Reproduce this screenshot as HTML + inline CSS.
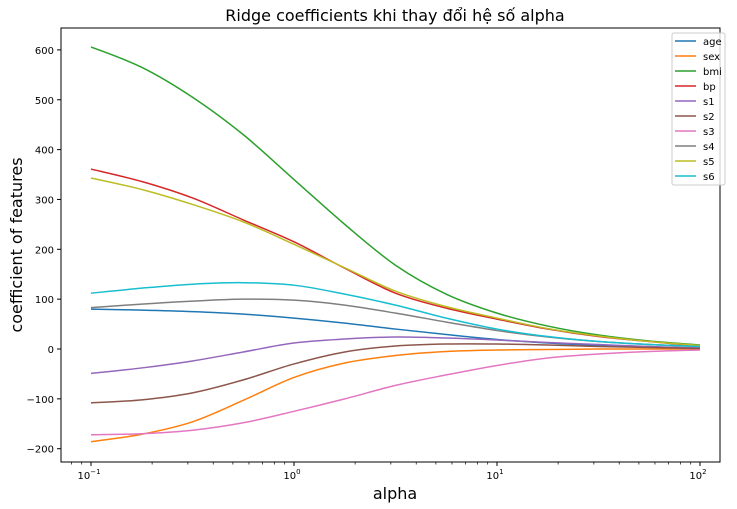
<!DOCTYPE html>
<html><head><meta charset="utf-8"><style>
html,body{margin:0;padding:0;background:#fff;}
svg{display:block;font-family:"DejaVu Sans","Liberation Sans",sans-serif;}
</style></head><body>
<svg id="chart" width="737" height="509" viewBox="0 0 737 509">
<text x="395" y="21" text-anchor="middle" font-size="16" fill="#000">Ridge coefficients khi thay đổi hệ số alpha</text>
<text transform="translate(22,245) rotate(-90)" text-anchor="middle" font-size="16" fill="#000">coefficient of features</text>
<text x="395" y="499" text-anchor="middle" font-size="16" fill="#000">alpha</text>
<g id="ticks"></g>
<g id="lines"></g>
<rect x="61" y="28" width="659" height="434" fill="none" stroke="#000" stroke-width="1"/>
<g id="legend"></g>
</svg>
<script>
const alphaLog = [-1,-0.75,-0.5,-0.25,0,0.25,0.5,0.75,1,1.25,1.5,1.75,2];
const names = ["age","sex","bmi","bp","s1","s2","s3","s4","s5","s6"];
const colors = ["#1f77b4","#ff7f0e","#2ca02c","#d62728","#9467bd","#8c564b","#e377c2","#7f7f7f","#bcbd22","#17becf"];
const age = [80,78,75,70,62,52,40,29,19,12,7,4,2];
const sex = [-186,-171,-146,-103,-57,-28,-13,-5,-2,-1,0,0,0];
const bmi = [606,565,505,430,340,250,168,110,72,46,28,16,8];
const bp = [361,336,303,259,215,162,112,82,60,40,25,15,6];
const s1 = [-49,-38,-24,-6,12,20,24,22,18,13,9,5,2];
const s2 = [-108,-102,-88,-62,-30,-6,6,10,10,8,5,3,1];
const s3 = [-172,-170,-163,-148,-125,-100,-73,-52,-33,-18,-10,-5,-2];
const s4 = [83,90,96,100,98,88,72,54,37,24,15,9,5];
const s5 = [343,320,290,255,210,163,116,85,62,41,26,15,7];
const s6 = [112,122,130,133,128,110,88,62,40,25,15,9,5];
const series = [age,sex,bmi,bp,s1,s2,s3,s4,s5,s6];
const yTicks = [-200,-100,0,100,200,300,400,500,600];
const xTickExp = [-1,0,1,2];

const NS="http://www.w3.org/2000/svg";
function xs(l){return 294+203*l;}
function ys(v){return 349-v*0.4985;}
const tg=document.getElementById('ticks');
yTicks.forEach(v=>{
  const t=document.createElementNS(NS,'line');
  t.setAttribute('x1',57);t.setAttribute('x2',61);t.setAttribute('y1',ys(v));t.setAttribute('y2',ys(v));t.setAttribute('stroke','#000');
  
  
  tg.appendChild(t);
  const tx=document.createElementNS(NS,'text');
  tx.setAttribute('x',54);tx.setAttribute('y',ys(v)+4);tx.setAttribute('text-anchor','end');tx.setAttribute('font-size','10');
  tx.textContent=(v<0?'\u2212'+(-v):v);
  
  
  tg.appendChild(tx);
});
for(let e=-2;e<=2;e++){for(let m=1;m<10;m++){
  const l=e+Math.log10(m); const x=xs(l); if(x<61||x>720)continue;
  const t=document.createElementNS(NS,'line');
  t.setAttribute('x1',x);t.setAttribute('x2',x);t.setAttribute('y1',462);t.setAttribute('y2',m==1?466:464.5);t.setAttribute('stroke','#000');t.setAttribute('stroke-width',m==1?1:0.7);
  
  
  tg.appendChild(t);
}}
xTickExp.forEach(e=>{
  const tx=document.createElementNS(NS,'text');
  tx.setAttribute('x',xs(e)-2);tx.setAttribute('y',479);tx.setAttribute('text-anchor','middle');tx.setAttribute('font-size','10');
  tx.innerHTML='10<tspan dy="-5" font-size="7">'+(e<0?'\u2212'+(-e):e)+'</tspan>';
  
  
  tg.appendChild(tx);
});
function smooth(pts){
  let d='M'+pts[0][0]+','+pts[0][1];
  for(let i=0;i<pts.length-1;i++){
    const p0=pts[Math.max(0,i-1)],p1=pts[i],p2=pts[i+1],p3=pts[Math.min(pts.length-1,i+2)];
    const c1=[p1[0]+(p2[0]-p0[0])/6,p1[1]+(p2[1]-p0[1])/6];
    const c2=[p2[0]-(p3[0]-p1[0])/6,p2[1]-(p3[1]-p1[1])/6];
    d+=' C'+c1[0]+','+c1[1]+' '+c2[0]+','+c2[1]+' '+p2[0]+','+p2[1];
  }
  return d;
}
const lg=document.getElementById('lines');
series.forEach((s,i)=>{
  const p=document.createElementNS(NS,'path');
  p.setAttribute('d',smooth(s.map((v,j)=>[xs(alphaLog[j]),ys(v)])));
  p.setAttribute('fill','none');p.setAttribute('stroke',colors[i]);p.setAttribute('stroke-width','1.5');
  
  
  lg.appendChild(p);
});
const leg=document.getElementById('legend');
const box=document.createElementNS(NS,'rect');
box.setAttribute('x',672);box.setAttribute('y',33);box.setAttribute('width',53);box.setAttribute('height',152);box.setAttribute('rx',2);
box.setAttribute('fill','#fff');box.setAttribute('fill-opacity','0.8');box.setAttribute('stroke','#ccc');


leg.appendChild(box);
names.forEach((n,i)=>{
  const y=41+i*15;
  const l=document.createElementNS(NS,'line');
  l.setAttribute('x1',675);l.setAttribute('x2',696);l.setAttribute('y1',y);l.setAttribute('y2',y);l.setAttribute('stroke',colors[i]);l.setAttribute('stroke-width','1.5');
  
  
  leg.appendChild(l);
  const t=document.createElementNS(NS,'text');
  t.setAttribute('x',703);t.setAttribute('y',y+4);t.setAttribute('font-size','10');t.textContent=n;
  
  
  leg.appendChild(t);
});
</script>
</body></html>
